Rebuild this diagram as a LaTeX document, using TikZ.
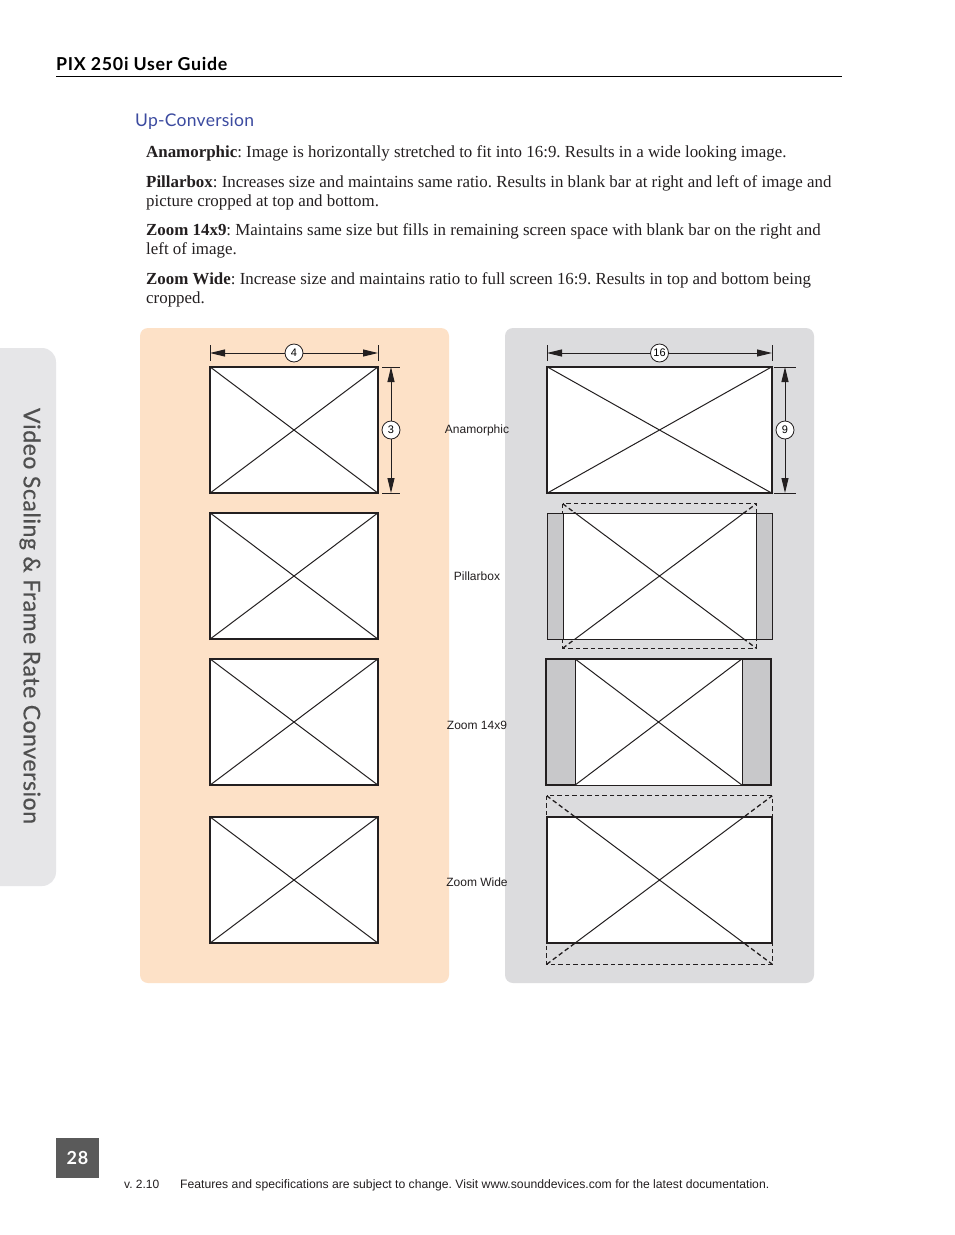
\documentclass[tikz,border=0pt]{standalone}
\usepackage{fontspec}
\setmainfont{Liberation Serif}
\setsansfont{Liberation Sans}
\newfontfamily\headfont{Lato}[LetterSpace=4]
\newfontfamily\sectfont{Lato}[LetterSpace=1.5]
\newfontfamily\tabfont{Lato}[FakeBold=0.5,LetterSpace=2.5]
\usetikzlibrary{arrows.meta,positioning}
\definecolor{panelorange}{HTML}{FDE1C7}
\definecolor{panelgrey}{HTML}{DCDCDE}
\definecolor{bargrey}{HTML}{C8C8CA}
\definecolor{tabgrey}{HTML}{E6E6E8}
\definecolor{tabtext}{HTML}{4F4F4F}
\definecolor{pagegrey}{HTML}{5A5A5A}
\definecolor{headblue}{HTML}{3C4BA0}
\definecolor{inkdark}{HTML}{231F20}
\frenchspacing

\begin{document}
\begin{tikzpicture}[x=1pt,y=-1pt,>={Triangle[length=15pt,width=7pt]},
  scr/.style={draw=inkdark,line width=1.2pt,fill=white,minimum width=168pt,
    minimum height=126pt,inner sep=0pt},
  wide/.style={scr,minimum width=225pt},
  area/.style={minimum width=#1,inner sep=0pt},
  crop/.style={draw=inkdark,line width=1.3pt,dash pattern=on 4.5pt off 3pt},
  diag/.style={draw=inkdark,line width=1pt},
  dim/.style={<->,draw=inkdark,line width=1pt},
  tick/.style={draw=inkdark,line width=1pt},
  num/.style={circle,draw=inkdark,fill=white,line width=0.8pt,inner sep=0pt,
    minimum size=18pt,font=\sffamily\fontsize{11}{11}\selectfont},
  lbl/.style={font=\sffamily\fontsize{12}{14}\selectfont,text=inkdark},
  para/.style={anchor=north west,inner sep=0pt,align=left,
    font=\fontsize{16.9}{19}\selectfont,text=inkdark}]

  \useasboundingbox (0,0) rectangle (954,1235);
  \fill[white] (0,0) rectangle (954,1235);

  % header
  \node[anchor=base west,inner sep=0pt,
    font=\headfont\bfseries\fontsize{17.8}{17.8}\selectfont] (title) at (56,70)
    {PIX 250i User Guide};
  \draw[line width=0.8pt] (56,76) -- (842,76);
  \node[anchor=base west,inner sep=0pt,text=headblue,
    font=\sectfont\fontsize{17.5}{17.5}\selectfont] (sect) at (135,126) {Up-Conversion};

  \node[para] (p1) at (146,145)
    {\textbf{Anamorphic}: Image is horizontally stretched to fit into 16:9. Results in a wide looking image.};
  \node[para] (p2) at (146,175)
    {\textbf{Pillarbox}: Increases size and maintains same ratio. Results in blank bar at right and left of image and\\
     picture cropped at top and bottom.};
  \node[para] (p3) at (146,223)
    {\textbf{Zoom 14x9}: Maintains same size but fills in remaining screen space with blank bar on the right and\\
     left of image.};
  \node[para] (p4) at (146,272)
    {\textbf{Zoom Wide}: Increase size and maintains ratio to full screen 16:9. Results in top and bottom being\\
     cropped.};

  % side tab
  \fill[tabgrey,rounded corners=14pt] (-20,348) rectangle (56,886);
  \node[rotate=-90,text=tabtext,font=\tabfont\fontsize{23}{23}\selectfont]
    (tab) at (30,616) {Video Scaling \& Frame Rate Conversion};

  % panels
  \fill[panelorange,rounded corners=8pt] (140,328) rectangle (449,983);
  \fill[panelgrey,rounded corners=8pt] (505,328) rectangle (814,983);

  % 4:3 source
  \foreach \n/\y in {1/430,2/576,3/722,4/880} {
    \node[scr] (l\n) at (294,\y) {};
    \draw[diag] (l\n.north west) -- (l\n.south east)
      (l\n.south west) -- (l\n.north east);
  }
  \coordinate (lw1) at (210,353);
  \coordinate (lw2) at (378,353);
  \draw[tick] (210,345) -- (210,361) (378,345) -- (378,361);
  \draw[dim] (lw1) -- node[num]{4} (lw2);
  \coordinate (lh1) at (391,367);
  \coordinate (lh2) at (391,493);
  \draw[tick] (382,367) -- (400,367) (382,493) -- (400,493);
  \draw[dim] (lh1) -- node[num]{3} (lh2);

  % 16:9 anamorphic
  \node[wide] (r1) at (659.5,430) {};
  \draw[diag] (r1.north west) -- (r1.south east) (r1.south west) -- (r1.north east);
  \coordinate (rw1) at (547,353);
  \coordinate (rw2) at (772,353);
  \draw[tick] (547,345) -- (547,361) (772,345) -- (772,361);
  \draw[dim] (rw1) -- node[num]{16} (rw2);
  \coordinate (rh1) at (785,367);
  \coordinate (rh2) at (785,493);
  \draw[tick] (774,367) -- (796,367) (774,493) -- (796,493);
  \draw[dim] (rh1) -- node[num]{9} (rh2);

  % pillarbox
  \node[area=193pt,minimum height=144pt] (pimg) at (659.5,576) {};
  \draw[crop] (pimg.north west) rectangle (pimg.south east);
  \draw[crop] (pimg.north west) -- (pimg.south east) (pimg.south west) -- (pimg.north east);
  \node[wide,fill=bargrey,line width=1pt] (r2) at (659.5,576) {};
  \node[scr,minimum width=193pt,line width=1pt] (p2i) at (659.5,576) {};
  \begin{scope}
    \clip (r2.north west) rectangle (r2.south east);
    \draw[diag] (pimg.north west) -- (pimg.south east) (pimg.south west) -- (pimg.north east);
  \end{scope}

  % zoom 14x9
  \node[wide,fill=bargrey] (r3) at (658.5,722) {};
  \node[scr,minimum width=167pt,line width=1pt] (z3) at (658.5,722) {};
  \draw[diag] (z3.north west) -- (z3.south east) (z3.south west) -- (z3.north east);

  % zoom wide
  \node[area=225pt,minimum height=168pt] (wimg) at (659.5,880) {};
  \draw[crop] (wimg.north west) rectangle (wimg.south east);
  \draw[crop] (wimg.north west) -- (wimg.south east) (wimg.south west) -- (wimg.north east);
  \node[wide] (r4) at (659.5,880) {};
  \begin{scope}
    \clip (r4.north west) rectangle (r4.south east);
    \draw[diag] (wimg.north west) -- (wimg.south east) (wimg.south west) -- (wimg.north east);
  \end{scope}

  % mode labels
  \node[lbl] (la) at (477,430) {Anamorphic};
  \node[lbl] (lb) at (477,576) {Pillarbox};
  \node[lbl] (lc) at (477,725) {Zoom 14x9};
  \node[lbl] (ld) at (477,882) {Zoom Wide};

  % footer
  \node[fill=pagegrey,minimum width=43pt,minimum height=40pt,text=white,
    font=\headfont\bfseries\fontsize{18}{18}\selectfont] (pg) at (77.5,1158) {28};
  \node[lbl,anchor=base west,inner sep=0pt] (ver) at (124,1188) {v. 2.10};
  \node[lbl,anchor=base west,inner sep=0pt,font=\sffamily\fontsize{12.2}{14}\selectfont] (foot) at (180,1188)
    {Features and specifications are subject to change. Visit www.sounddevices.com for the latest documentation.};
\end{tikzpicture}
\end{document}
